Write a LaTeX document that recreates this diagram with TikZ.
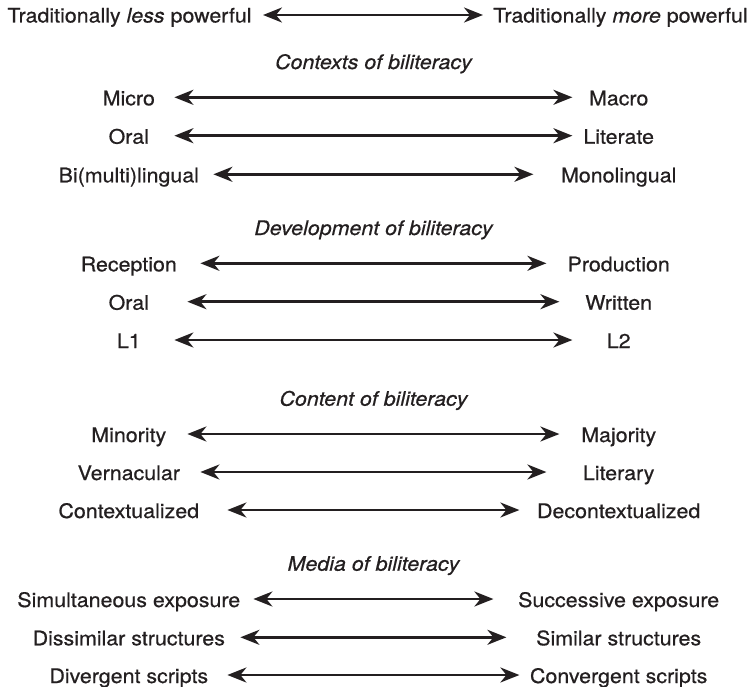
\documentclass[tikz,border=0pt]{standalone}
\usepackage{fontspec}
\setmainfont[FakeStretch=1.07,FakeBold=0.6]{TeX Gyre Heros}
\usetikzlibrary{arrows.meta}
\definecolor{ink}{HTML}{231F20}
\begin{document}
\begin{tikzpicture}[x=1pt,y=-1pt,
  lbl/.style={anchor=base, inner sep=0pt, text=ink,
    font=\fontsize{20}{24}\selectfont},
  head/.style={lbl, font=\fontsize{20}{24}\selectfont\itshape},
  link/.style={draw=ink, line width=2.5pt,
    {Stealth[length=19pt,width=15pt,inset=6pt]}-{Stealth[length=19pt,width=15pt,inset=6pt]}}]
\useasboundingbox (0,0) rectangle (749,687);

% continuum endpoints: left column centred at 128.8, right column at 618.7
% arrows are symmetric about x = 373.4

% overall power relation
\node[lbl] (p0l) at (129.5,22.5) {Traditionally \textit{less} powerful};
\node[lbl] (p0r) at (620.5,22.5) {Traditionally \textit{more} powerful};
\coordinate (p0a) at (263,15);
\coordinate (p0b) at (483,15);
\draw[link] (p0a) -- (p0b);

% contexts
\node[head] (hctx) at (373.5,69) {Contexts of biliteracy};
\node[lbl] (c1l) at (128.8,105.3) {Micro};
\node[lbl] (c1r) at (618.7,105.3) {Macro};
\coordinate (c1a) at (174.4,97.3);
\coordinate (c1b) at (572.4,97.3);
\draw[link] (c1a) -- (c1b);
\node[lbl] (c2l) at (128.8,143.7) {Oral};
\node[lbl] (c2r) at (618.7,143.7) {Literate};
\coordinate (c2a) at (174.4,135.7);
\coordinate (c2b) at (572.4,135.7);
\draw[link] (c2a) -- (c2b);
\node[lbl] (c3l) at (128.8,182.3) {Bi(multi)lingual};
\node[lbl] (c3r) at (618.7,182.3) {Monolingual};
\coordinate (c3a) at (213.4,174.3);
\coordinate (c3b) at (533.4,174.3);
\draw[link] (c3a) -- (c3b);

% development
\node[head] (hdev) at (373.5,235) {Development of biliteracy};
\node[lbl] (d1l) at (128.8,271.3) {Reception};
\node[lbl] (d1r) at (618.7,271.3) {Production};
\coordinate (d1a) at (200.4,263.3);
\coordinate (d1b) at (546.4,263.3);
\draw[link] (d1a) -- (d1b);
\node[lbl] (d2l) at (128.8,309.7) {Oral};
\node[lbl] (d2r) at (618.7,309.7) {Written};
\coordinate (d2a) at (187.4,301.7);
\coordinate (d2b) at (559.4,301.7);
\draw[link] (d2a) -- (d2b);
\node[lbl] (d3l) at (128.8,348) {L1};
\node[lbl] (d3r) at (618.7,348) {L2};
\coordinate (d3a) at (174.4,340);
\coordinate (d3b) at (572.4,340);
\draw[link] (d3a) -- (d3b);

% content
\node[head] (hcon) at (373.5,405.7) {Content of biliteracy};
\node[lbl] (n1l) at (128.8,442) {Minority};
\node[lbl] (n1r) at (618.7,442) {Majority};
\coordinate (n1a) at (187.4,434);
\coordinate (n1b) at (559.4,434);
\draw[link] (n1a) -- (n1b);
\node[lbl] (n2l) at (128.8,480) {Vernacular};
\node[lbl] (n2r) at (618.7,480) {Literary};
\coordinate (n2a) at (200.4,472);
\coordinate (n2b) at (546.4,472);
\draw[link] (n2a) -- (n2b);
\node[lbl] (n3l) at (128.8,518) {Contextualized};
\node[lbl] (n3r) at (618.7,518) {Decontextualized};
\coordinate (n3a) at (227.4,510);
\coordinate (n3b) at (519.4,510);
\draw[link] (n3a) -- (n3b);

% media
\node[head] (hmed) at (373.5,570.7) {Media of biliteracy};
\node[lbl] (m1l) at (128.8,607) {Simultaneous exposure};
\node[lbl] (m1r) at (618.7,607) {Successive exposure};
\coordinate (m1a) at (253.4,599);
\coordinate (m1b) at (493.4,599);
\draw[link] (m1a) -- (m1b);
\node[lbl] (m2l) at (128.8,645.3) {Dissimilar structures};
\node[lbl] (m2r) at (618.7,645.3) {Similar structures};
\coordinate (m2a) at (240.4,637.3);
\coordinate (m2b) at (506.4,637.3);
\draw[link] (m2a) -- (m2b);
\node[lbl] (m3l) at (128.8,683) {Divergent scripts};
\node[lbl] (m3r) at (618.7,683) {Convergent scripts};
\coordinate (m3a) at (227.4,675);
\coordinate (m3b) at (519.4,675);
\draw[link] (m3a) -- (m3b);
\end{tikzpicture}
\end{document}
